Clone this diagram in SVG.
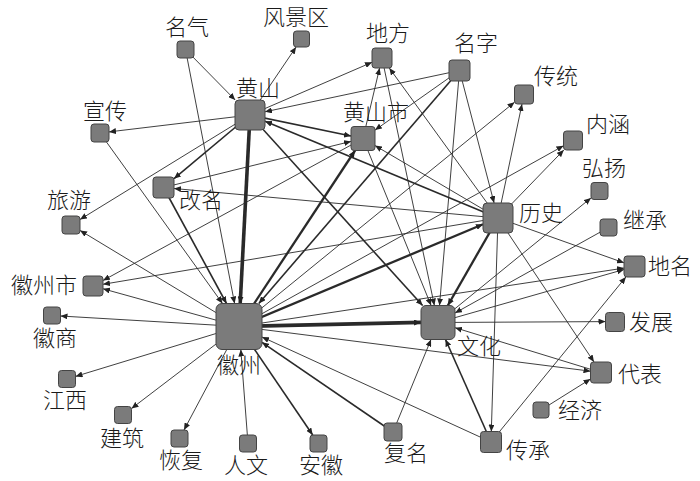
<svg xmlns="http://www.w3.org/2000/svg" width="700" height="481" viewBox="0 0 700 481">
<defs>
<marker id="ah" markerUnits="userSpaceOnUse" markerWidth="7" markerHeight="6" refX="7" refY="3" orient="auto">
<path d="M0,0 L7,3 L0,6 z" fill="#222"/>
</marker>
</defs>
<style>
.e{stroke:#2a2a2a;fill:none;marker-end:url(#ah)}
.w1{stroke-width:0.9}
.w2{stroke-width:1.6}
.w3{stroke-width:2.3}
.w4{stroke-width:3.6}
.n{fill:#7b7b7b;stroke:#444;stroke-width:1}
.t{font-family:"Noto Sans CJK SC","Noto Sans CJK JP",sans-serif;font-size:22px;fill:#1a1a1a;text-anchor:middle;font-weight:300}
</style>
<rect width="700" height="481" fill="#fff"/>
<g id="connectors">
<line class="e w1" x1="185.5" y1="49.5" x2="235.2" y2="100"/>
<line class="e w1" x1="185.5" y1="49.5" x2="234.6" y2="303.5"/>
<line class="e w1" x1="250" y1="115" x2="296.1" y2="47"/>
<line class="e w1" x1="250" y1="115" x2="109" y2="131.9"/>
<line class="e w1" x1="100" y1="133" x2="222.5" y2="303.5"/>
<line class="e w1" x1="250" y1="115" x2="80" y2="219.5"/>
<line class="e w2" x1="250" y1="115" x2="174" y2="178.7"/>
<line class="e w4" x1="250" y1="115" x2="240.2" y2="303.5"/>
<line class="e w1" x1="250" y1="115" x2="372" y2="62.3"/>
<line class="e w2" x1="250" y1="115" x2="351" y2="136"/>
<line class="e w2" x1="250" y1="115" x2="422.6" y2="305.5"/>
<line class="e w2" x1="498" y1="218" x2="265" y2="121.2"/>
<line class="e w1" x1="459.5" y1="70.5" x2="265" y2="111.8"/>
<line class="e w3" x1="239" y1="326.5" x2="355.1" y2="150.5"/>
<line class="e w1" x1="459.5" y1="70.5" x2="375" y2="130.1"/>
<line class="e w1" x1="363" y1="138.5" x2="379.6" y2="68"/>
<line class="e w1" x1="498" y1="218" x2="375" y2="145.6"/>
<line class="e w1" x1="363" y1="138.5" x2="431.1" y2="305.5"/>
<line class="e w1" x1="363" y1="138.5" x2="103" y2="280.5"/>
<line class="e w1" x1="163.5" y1="187.5" x2="351" y2="141.4"/>
<line class="e w1" x1="459.5" y1="70.5" x2="494.1" y2="203"/>
<line class="e w1" x1="459.5" y1="70.5" x2="439.5" y2="305.5"/>
<line class="e w1" x1="382" y1="58" x2="434.4" y2="305.5"/>
<line class="e w3" x1="498" y1="218" x2="447.8" y2="305.5"/>
<line class="e w3" x1="239" y1="326.5" x2="483" y2="224.3"/>
<line class="e w1" x1="498" y1="218" x2="624" y2="262.8"/>
<line class="e w1" x1="498" y1="218" x2="594" y2="362"/>
<line class="e w1" x1="498" y1="218" x2="491.3" y2="431.5"/>
<line class="e w1" x1="498" y1="218" x2="522" y2="104"/>
<line class="e w1" x1="498" y1="218" x2="563.8" y2="150"/>
<line class="e w1" x1="498" y1="218" x2="174" y2="188.5"/>
<line class="e w1" x1="498" y1="218" x2="103" y2="284.3"/>
<line class="e w1" x1="498" y1="218" x2="389.3" y2="68"/>
<line class="e w1" x1="438" y1="322.5" x2="591" y2="197.9"/>
<line class="e w1" x1="608.5" y1="227.5" x2="455" y2="313"/>
<line class="e w1" x1="438" y1="322.5" x2="605.5" y2="321.6"/>
<line class="e w1" x1="601" y1="372.5" x2="455" y2="327.7"/>
<line class="e w1" x1="541" y1="410" x2="590.5" y2="379"/>
<line class="e w1" x1="491" y1="442" x2="625.9" y2="277"/>
<line class="e w2" x1="491" y1="442" x2="445.5" y2="339.5"/>
<line class="e w1" x1="491" y1="442" x2="262" y2="337"/>
<line class="e w1" x1="393" y1="432" x2="431" y2="339.5"/>
<line class="e w2" x1="393" y1="432" x2="262" y2="342.3"/>
<line class="e w1" x1="239" y1="326.5" x2="624" y2="268.1"/>
<line class="e w1" x1="438" y1="322.5" x2="624" y2="269.5"/>
<line class="e w1" x1="239" y1="326.5" x2="563.5" y2="145.8"/>
<line class="e w1" x1="239" y1="326.5" x2="514.5" y2="102.2"/>
<line class="e w2" x1="459.5" y1="70.5" x2="258.8" y2="303.5"/>
<line class="e w2" x1="163.5" y1="187.5" x2="226.5" y2="303.5"/>
<line class="e w1" x1="248" y1="443.5" x2="240.8" y2="349.5"/>
<line class="e w2" x1="239" y1="326.5" x2="312.7" y2="435"/>
<line class="e w1" x1="239" y1="326.5" x2="184" y2="430"/>
<line class="e w1" x1="239" y1="326.5" x2="131.5" y2="408.5"/>
<line class="e w1" x1="239" y1="326.5" x2="75.5" y2="376.4"/>
<line class="e w1" x1="239" y1="326.5" x2="60.5" y2="316"/>
<line class="e w1" x1="239" y1="326.5" x2="103" y2="288.8"/>
<line class="e w1" x1="239" y1="326.5" x2="80" y2="230.4"/>
<line class="e w4" x1="239" y1="326.5" x2="421" y2="322.4"/>
<line class="e w1" x1="239" y1="326.5" x2="590.5" y2="371.2"/>
</g>
<g id="n-mingqi"><rect class="n" x="177" y="41" width="17" height="17" rx="3"/><text class="t" x="187" y="35">名气</text></g>
<g id="n-fengjingqu"><rect class="n" x="293.5" y="31" width="16" height="16" rx="3"/><text class="t" x="296" y="25">风景区</text></g>
<g id="n-huangshan"><rect class="n" x="235" y="100" width="30" height="30" rx="4"/><text class="t" x="258" y="96">黄山</text></g>
<g id="n-xuanchuan"><rect class="n" x="91" y="124" width="18" height="18" rx="3"/><text class="t" x="105" y="119">宣传</text></g>
<g id="n-gaiming"><rect class="n" x="153" y="177" width="21" height="21" rx="3"/><text class="t" x="201" y="208">改名</text></g>
<g id="n-lvyou"><rect class="n" x="62" y="216" width="18" height="18" rx="3"/><text class="t" x="69" y="208">旅游</text></g>
<g id="n-difang"><rect class="n" x="372" y="48" width="20" height="20" rx="3"/><text class="t" x="388" y="41">地方</text></g>
<g id="n-mingzi"><rect class="n" x="449" y="60" width="21" height="21" rx="3"/><text class="t" x="476" y="51">名字</text></g>
<g id="n-chuantong"><rect class="n" x="514.5" y="85" width="19" height="19" rx="3"/><text class="t" x="556" y="84">传统</text></g>
<g id="n-huangshanshi"><rect class="n" x="351" y="126.5" width="24" height="24" rx="3"/><text class="t" x="376" y="120">黄山市</text></g>
<g id="n-neihan"><rect class="n" x="563.5" y="131" width="19" height="19" rx="3"/><text class="t" x="608" y="132">内涵</text></g>
<g id="n-hongyang"><rect class="n" x="591" y="182.5" width="17" height="17" rx="3"/><text class="t" x="604" y="176">弘扬</text></g>
<g id="n-lishi"><rect class="n" x="483" y="203" width="30" height="30" rx="4"/><text class="t" x="541" y="221">历史</text></g>
<g id="n-jicheng"><rect class="n" x="600" y="219" width="17" height="17" rx="3"/><text class="t" x="645" y="228">继承</text></g>
<g id="n-huizhoushi"><rect class="n" x="83" y="276" width="20" height="20" rx="3"/><text class="t" x="44" y="293">徽州市</text></g>
<g id="n-huishang"><rect class="n" x="43.5" y="307" width="17" height="17" rx="3"/><text class="t" x="55" y="346">徽商</text></g>
<g id="n-huizhou"><rect class="n" x="216" y="303.5" width="46" height="46" rx="6"/><text class="t" x="239" y="373">徽州</text></g>
<g id="n-jiangxi"><rect class="n" x="58.5" y="370.5" width="17" height="17" rx="3"/><text class="t" x="65" y="408">江西</text></g>
<g id="n-jianzhu"><rect class="n" x="114.5" y="406.5" width="17" height="17" rx="3"/><text class="t" x="122" y="446">建筑</text></g>
<g id="n-huifu"><rect class="n" x="171" y="430" width="17" height="17" rx="3"/><text class="t" x="181" y="468">恢复</text></g>
<g id="n-renwen"><rect class="n" x="239.5" y="435" width="17" height="17" rx="3"/><text class="t" x="246" y="473">人文</text></g>
<g id="n-anhui"><rect class="n" x="310" y="435" width="17" height="17" rx="3"/><text class="t" x="321" y="473">安徽</text></g>
<g id="n-diming"><rect class="n" x="624" y="256" width="21" height="21" rx="3"/><text class="t" x="670" y="274">地名</text></g>
<g id="n-wenhua"><rect class="n" x="421" y="305.5" width="34" height="34" rx="5"/><text class="t" x="479" y="354">文化</text></g>
<g id="n-fazhan"><rect class="n" x="605.5" y="312.5" width="19" height="19" rx="3"/><text class="t" x="651" y="330">发展</text></g>
<g id="n-daibiao"><rect class="n" x="590.5" y="362" width="21" height="21" rx="3"/><text class="t" x="640" y="382">代表</text></g>
<g id="n-jingji"><rect class="n" x="533" y="402" width="16" height="16" rx="3"/><text class="t" x="580" y="418">经济</text></g>
<g id="n-fuming"><rect class="n" x="384" y="423" width="18" height="18" rx="3"/><text class="t" x="406" y="461">复名</text></g>
<g id="n-chuancheng"><rect class="n" x="480.5" y="431.5" width="21" height="21" rx="3"/><text class="t" x="528" y="458">传承</text></g>
</svg>
